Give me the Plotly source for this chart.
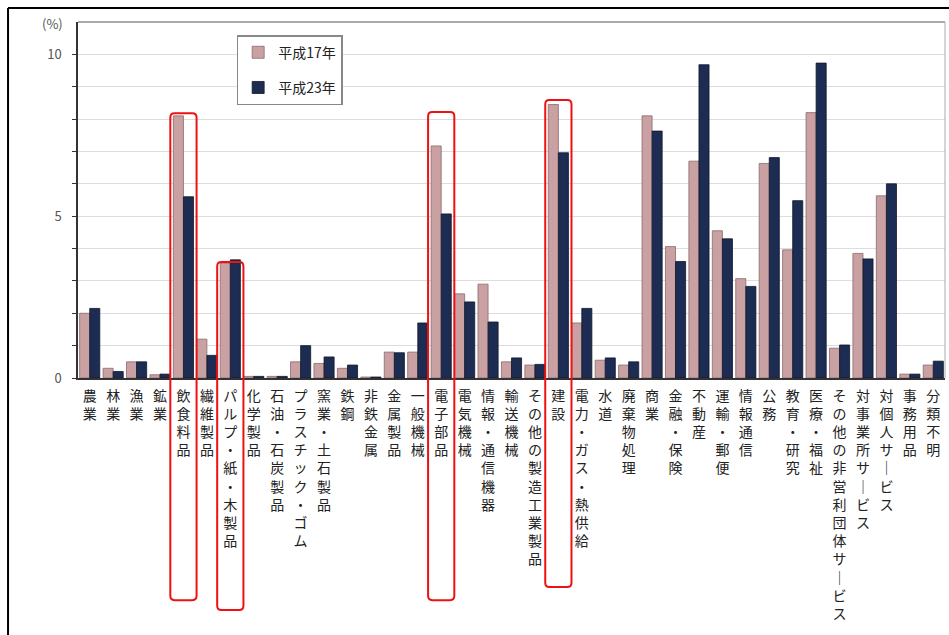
import plotly.graph_objects as go

categories = [
    "農業", "林業", "漁業", "鉱業", "飲食料品", "繊維製品", "パルプ・紙・木製品",
    "化学製品", "石油・石炭製品", "プラスチック・ゴム", "窯業・土石製品", "鉄鋼",
    "非鉄金属", "金属製品", "一般機械", "電子部品", "電気機械", "情報・通信機器",
    "輸送機械", "その他の製造工業製品", "建設", "電力・ガス・熱供給", "水道",
    "廃棄物処理", "商業", "金融・保険", "不動産", "運輸・郵便", "情報通信", "公務",
    "教育・研究", "医療・福祉", "その他の非営利団体サービス", "対事業所サービス",
    "対個人サービス", "事務用品", "分類不明",
]

h17 = [2.0, 0.3, 0.5, 0.1, 8.1, 1.2, 3.55, 0.05, 0.05, 0.5, 0.45, 0.3,
       0.03, 0.8, 0.8, 7.17, 2.6, 2.9, 0.5, 0.4, 8.45, 1.7, 0.55,
       0.4, 8.1, 4.06, 6.7, 4.55, 3.07, 6.63, 3.96, 8.2, 0.92, 3.85,
       5.63, 0.12, 0.4]

h23 = [2.15, 0.2, 0.5, 0.12, 5.6, 0.7, 3.65, 0.05, 0.05, 1.0, 0.65, 0.4,
       0.03, 0.78, 1.7, 5.07, 2.35, 1.73, 0.62, 0.42, 6.96, 2.15, 0.62,
       0.5, 7.63, 3.6, 9.68, 4.3, 2.83, 6.81, 5.48, 9.73, 1.02, 3.68,
       6.0, 0.12, 0.52]

series_names = ["平成17年", "平成23年"]
highlighted = ["飲食料品", "パルプ・紙・木製品", "電子部品", "建設"]
highlight_paper_y = [(0.744, -0.624), (0.326, -0.652), (0.747, -0.624), (0.781, -0.587)]

y_ticks = list(range(0, 11))
y_ticktext = [str(v) if v % 5 == 0 else "" for v in y_ticks]


def vertical(label):
    chars = ["｜" if c == "ー" else c for c in label]
    return "<br>".join(chars)


fig = go.Figure()
fig.add_trace(go.Bar(
    x=categories, y=h17, name=series_names[0], legendgroup="a",
    marker=dict(color="#c9a1a3", line=dict(color="#8a6a6c", width=0.8)),
))
fig.add_trace(go.Bar(
    x=categories, y=h23, name=series_names[1], legendgroup="b",
    marker=dict(color="#1d2c52", line=dict(color="#111827", width=0.8)),
))

shapes = []
# red highlight boxes (rounded)
for cat, (ytop, ybot) in zip(highlighted, highlight_paper_y):
    i = categories.index(cat)
    x0, x1 = i - 0.56, i + 0.56
    rx, ry = 0.18, 0.012
    path = (f"M {x0+rx} {ytop} L {x1-rx} {ytop} Q {x1} {ytop} {x1} {ytop-ry} "
            f"L {x1} {ybot+ry} Q {x1} {ybot} {x1-rx} {ybot} "
            f"L {x0+rx} {ybot} Q {x0} {ybot} {x0} {ybot+ry} "
            f"L {x0} {ytop-ry} Q {x0} {ytop} {x0+rx} {ytop} Z")
    shapes.append(dict(type="path", xref="x", yref="paper", path=path,
                       line=dict(color="#ee1111", width=2), layer="above"))

# outer frame lines
shapes.append(dict(type="line", xref="paper", yref="paper",
                   x0=-0.0807, x1=1.01, y0=1.039, y1=1.039,
                   line=dict(color="black", width=2)))
shapes.append(dict(type="line", xref="paper", yref="paper",
                   x0=-0.0807, x1=-0.0807, y0=1.039, y1=-0.75,
                   line=dict(color="black", width=2)))

fig.update_layout(
    width=949, height=635,
    margin=dict(l=78, r=4, t=22, b=257),
    paper_bgcolor="white", plot_bgcolor="white",
    font=dict(family="Noto Sans CJK JP", size=12, color="#222222"),
    barmode="group", bargap=0.14, bargroupgap=0.0,
    showlegend=True,
    legend=dict(
        x=0.183, y=0.963, xanchor="left", yanchor="top",
        bgcolor="white", bordercolor="#888888", borderwidth=1.5,
        font=dict(size=14, color="#222222"),
        tracegroupgap=14, traceorder="grouped", itemwidth=30,
    ),
    shapes=shapes,
    annotations=[dict(text="(%)", xref="paper", yref="paper", x=-0.015, y=0.995,
                      xanchor="right", yanchor="middle", showarrow=False,
                      font=dict(size=13, color="#555555"))],
)

fig.update_xaxes(
    tickmode="array", tickvals=categories,
    ticktext=[vertical(c) for c in categories],
    tickangle=0, tickfont=dict(size=14, color="#222222"),
    ticklabelstandoff=4,
    showline=True, linecolor="#333333", linewidth=1.5,
    mirror=False, ticks="", showgrid=False,
)
fig.update_yaxes(
    range=[0, 11], tickmode="array", tickvals=y_ticks, ticktext=y_ticktext,
    ticks="outside", ticklen=4, tickcolor="#333333",
    ticklabelstandoff=8,
    showline=True, linecolor="#333333", linewidth=1.5,
    showgrid=True, gridcolor="#dddddd", gridwidth=1,
    tickfont=dict(size=13, color="#555555"), zeroline=False,
)
# plot area top/right border
fig.add_shape(type="line", xref="paper", yref="paper", x0=0, x1=1, y0=1, y1=1,
              line=dict(color="#aaaaaa", width=2))
fig.add_shape(type="line", xref="paper", yref="paper", x0=1, x1=1, y0=0, y1=1,
              line=dict(color="#aaaaaa", width=1))

fig.write_html("out.html")
